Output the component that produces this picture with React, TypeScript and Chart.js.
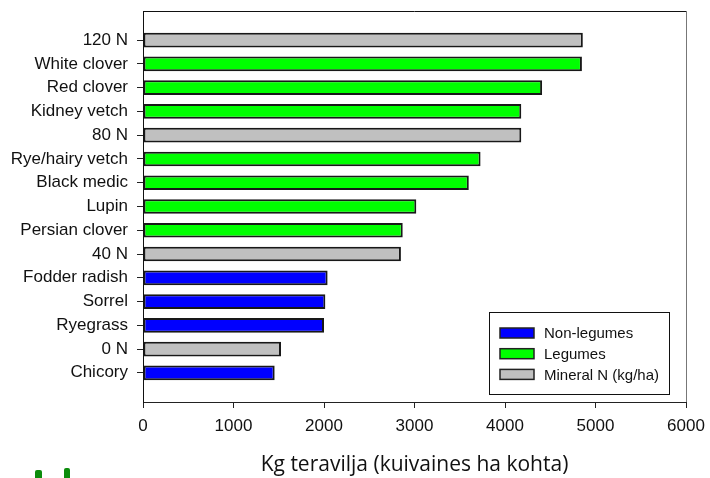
import React, { useEffect, useRef } from "react";
import { Chart, registerables } from "chart.js";

Chart.register(...registerables);

const categories = [
  "120 N", "White clover", "Red clover", "Kidney vetch", "80 N",
  "Rye/hairy vetch", "Black medic", "Lupin", "Persian clover", "40 N",
  "Fodder radish", "Sorrel", "Ryegrass", "0 N", "Chicory",
];
const values = [
  4860, 4850, 4410, 4180, 4180,
  3730, 3600, 3020, 2870, 2850,
  2040, 2015, 2000, 1525, 1455,
];
const groups = [
  "Mineral N (kg/ha)", "Legumes", "Legumes", "Legumes", "Mineral N (kg/ha)",
  "Legumes", "Legumes", "Legumes", "Legumes", "Mineral N (kg/ha)",
  "Non-legumes", "Non-legumes", "Non-legumes", "Mineral N (kg/ha)", "Non-legumes",
];
const seriesNames = ["Non-legumes", "Legumes", "Mineral N (kg/ha)"];
const seriesColors = ["#0000FF", "#00FF00", "#C0C0C0"];
const xTicks = [0, 1000, 2000, 3000, 4000, 5000, 6000];
const xTitle = "Kg teravilja (kuivaines ha kohta)";

const ARIAL = "'Liberation Sans', Arial, sans-serif";

const framePlugin = {
  id: "frame",
  afterDraw(chart: any) {
    const { ctx, chartArea } = chart;
    ctx.save();
    ctx.lineWidth = 1;
    ctx.strokeStyle = "#111";
    ctx.beginPath();
    ctx.moveTo(chartArea.left, chartArea.top + 0.5);
    ctx.lineTo(chartArea.right, chartArea.top + 0.5);
    ctx.stroke();
    ctx.strokeStyle = "#777";
    ctx.beginPath();
    ctx.moveTo(chartArea.right + 0.5, chartArea.top);
    ctx.lineTo(chartArea.right + 0.5, chartArea.bottom);
    ctx.stroke();
    ctx.restore();
  },
};

const legendPlugin = {
  id: "boxLegend",
  afterDraw(chart: any) {
    const { ctx, chartArea } = chart;
    const w = 180;
    const h = 82;
    const left = chartArea.right - 17 - w;
    const top = chartArea.bottom - 8 - h;
    ctx.save();
    ctx.fillStyle = "#fff";
    ctx.fillRect(left, top, w, h);
    ctx.strokeStyle = "#111";
    ctx.lineWidth = 1;
    ctx.strokeRect(left + 0.5, top + 0.5, w, h);
    ctx.font = `15px ${ARIAL}`;
    ctx.textBaseline = "middle";
    chart.data.datasets.forEach((ds: any, i: number) => {
      const cy = top + 21 + i * 20.7;
      ctx.fillStyle = ds.backgroundColor;
      ctx.fillRect(left + 11, cy - 5, 34, 10);
      ctx.strokeStyle = "#222";
      ctx.lineWidth = 1.5;
      ctx.strokeRect(left + 11, cy - 5, 34, 10);
      ctx.fillStyle = "#111";
      ctx.fillText(ds.label, left + 55, cy + 1);
    });
    ctx.restore();
  },
};

export default function App() {
  const ref = useRef<HTMLCanvasElement>(null);

  useEffect(() => {
    if (!ref.current) return;
    const datasets = seriesNames.map((name, s) => ({
      label: name,
      backgroundColor: seriesColors[s],
      borderColor: "#181818",
      borderWidth: 2,
      borderSkipped: false,
      grouped: false,
      categoryPercentage: 1,
      barPercentage: 0.62,
      data: categories
        .map((c, i) => ({ x: values[i], y: i, g: groups[i] }))
        .filter((p) => p.g === name)
        .map((p) => ({ x: p.x, y: p.y })),
    }));

    const chart = new Chart(ref.current, {
      type: "bar",
      data: { datasets },
      plugins: [framePlugin, legendPlugin],
      options: {
        indexAxis: "y",
        animation: false,
        responsive: false,
        maintainAspectRatio: false,
        layout: { padding: { top: 11, right: 24, left: 0, bottom: 0 } },
        plugins: {
          legend: { display: false },
          tooltip: { enabled: false },
        },
        scales: {
          x: {
            type: "linear",
            offset: false,
            min: 0,
            max: 6000,
            afterBuildTicks: (scale: any) => {
              scale.ticks = xTicks.map((v) => ({ value: v }));
            },
            afterFit: (scale: any) => {
              scale.height = 76;
              scale.paddingLeft = 0;
              scale.paddingRight = 0;
            },
            grid: {
              offset: false,
              drawOnChartArea: false,
              drawTicks: true,
              tickLength: 6,
              tickColor: "#222",
            },
            border: { display: true, color: "#222", width: 1 },
            ticks: {
              padding: 8,
              color: "#111",
              font: { family: ARIAL, size: 17 },
              maxRotation: 0,
              autoSkip: false,
              callback: (v: any) => String(v),
            },
            title: {
              display: true,
              text: xTitle,
              color: "#111",
              font: { family: "'Open Sans', sans-serif", size: 21 },
              padding: { top: -2, bottom: 0 },
            },
          },
          y: {
            type: "linear",
            offset: false,
            reverse: true,
            min: -1.23,
            max: 15.23,
            afterBuildTicks: (scale: any) => {
              scale.ticks = categories.map((_, i) => ({ value: i }));
            },
            afterFit: (scale: any) => {
              scale.width = 143;
              scale.paddingTop = 0;
              scale.paddingBottom = 0;
            },
            grid: {
              offset: false,
              drawOnChartArea: false,
              drawTicks: true,
              tickLength: 6,
              tickColor: "#222",
            },
            border: { display: true, color: "#111", width: 1 },
            ticks: {
              padding: 9,
              color: "#111",
              autoSkip: false,
              font: { family: ARIAL, size: 17 },
              callback: (v: any) => categories[Math.round(Number(v))] ?? "",
            },
          },
        },
      } as any,
    });
    return () => chart.destroy();
  }, []);

  return (
    <div style={{ position: "absolute", left: 0, top: 0, width: 710, height: 478, background: "#fff" }}>
      <canvas ref={ref} width={710} height={478} style={{ display: "block" }} />
      <div style={{ position: "absolute", left: 35, top: 470, width: 7, height: 8, background: "#0c8c0c", borderRadius: "2px 2px 0 0" }} />
      <div style={{ position: "absolute", left: 64, top: 468, width: 6, height: 10, background: "#0c8c0c", borderRadius: "2px 2px 0 0" }} />
    </div>
  );
}
